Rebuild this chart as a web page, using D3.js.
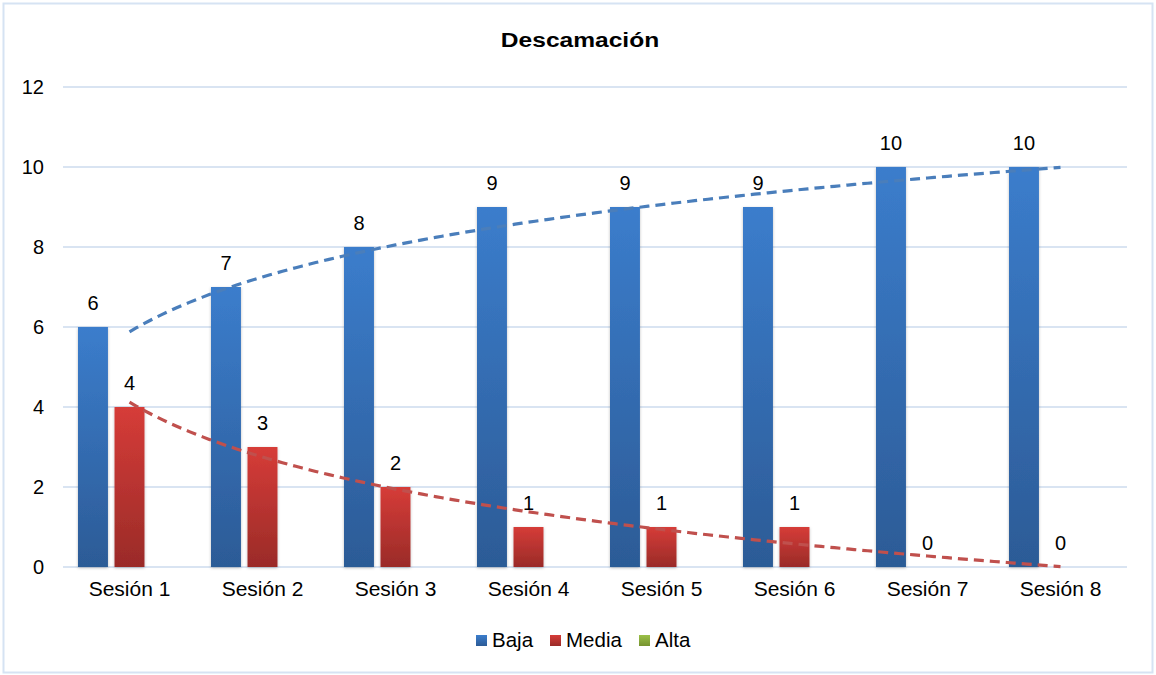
<!DOCTYPE html>
<html>
<head>
<meta charset="utf-8">
<script src="https://cdn.jsdelivr.net/npm/d3@7"></script>
<style>
  html, body { margin: 0; padding: 0; background: #fff; }
  svg { display: block; font-family: "Liberation Sans", Arial, sans-serif; }
</style>
</head>
<body>
<svg id="chart" width="1156" height="675"></svg>
<script>
// Sessions on the x axis
const categories = ["Sesión 1", "Sesión 2", "Sesión 3", "Sesión 4", "Sesión 5", "Sesión 6", "Sesión 7", "Sesión 8"];
// Counts per level
const baja  = [6, 7, 8, 9, 9, 9, 10, 10];
const media = [4, 3, 2, 1, 1, 1, 0, 0];
const alta  = [0, 0, 0, 0, 0, 0, 0, 0];
const seriesNames = ["Baja", "Media", "Alta"];
const yTicks = [0, 2, 4, 6, 8, 10, 12];
const title = "Descamación";

const svg = d3.select("#chart");
const W = 1156, H = 675;
const margin = { left: 63, right: 29, top: 87, bottom: 108 };
const plotW = W - margin.left - margin.right;
const plotH = H - margin.top - margin.bottom;

// gradients and shadow
const defs = svg.append("defs");
function grad(id, top, bottom) {
  const g = defs.append("linearGradient").attr("id", id).attr("x1", 0).attr("y1", 0).attr("x2", 0).attr("y2", 1);
  g.append("stop").attr("offset", "0%").attr("stop-color", top);
  g.append("stop").attr("offset", "100%").attr("stop-color", bottom);
}
grad("gBaja", "#3b7dcc", "#2c5b96");
grad("gMedia", "#d63c38", "#9a2b28");
grad("gAlta", "#9bc048", "#76932f");
const f = defs.append("filter").attr("id", "shadow").attr("x", "-20%").attr("y", "-5%").attr("width", "140%").attr("height", "115%");
f.append("feDropShadow").attr("dx", 0).attr("dy", 1).attr("stdDeviation", 1.6).attr("flood-color", "#000").attr("flood-opacity", 0.25);

// chart frame
svg.append("rect").attr("x", 3.5).attr("y", 3.5).attr("width", W - 7).attr("height", H - 6)
  .attr("fill", "#fff").attr("stroke", "#d6e3f3").attr("stroke-width", 2);

// title (wide bold face)
svg.append("text").attr("transform", "translate(580,47) scale(1.17,1)").attr("text-anchor", "middle")
  .attr("font-size", 21).attr("font-weight", "bold")
  .attr("fill", "#000").text(title);

const g = svg.append("g").attr("transform", `translate(${margin.left},${margin.top})`);

const x = d3.scaleBand().domain(categories).range([0, plotW]).paddingInner(0).paddingOuter(0);
const x1 = d3.scaleBand().domain(seriesNames).range([15, x.bandwidth() - 15]).paddingInner(0.18);
const y = d3.scaleLinear().domain([0, 12]).range([plotH, 0]);

// gridlines
g.append("g").selectAll("line").data(yTicks).join("line")
  .attr("x1", 0).attr("x2", plotW)
  .attr("y1", d => y(d)).attr("y2", d => y(d))
  .attr("stroke", "#d9e4f2").attr("stroke-width", 2);

// y axis labels
const yAxis = d3.axisLeft(y).tickValues(yTicks).tickSize(0).tickPadding(19);
g.append("g").call(yAxis).call(s => s.select(".domain").remove())
  .selectAll("text").attr("font-size", 20).attr("fill", "#000")
  .attr("font-family", "Liberation Sans, Arial, sans-serif");

// x axis labels
const xAxis = d3.axisBottom(x).tickSize(0).tickPadding(14);
g.append("g").attr("transform", `translate(0,${plotH})`).call(xAxis)
  .call(s => s.select(".domain").remove())
  .selectAll("text").attr("font-size", 21).attr("fill", "#000")
  .attr("font-family", "Liberation Sans, Arial, sans-serif");

const series = [
  { name: "Baja", values: baja, fill: "url(#gBaja)", labels: true },
  { name: "Media", values: media, fill: "url(#gMedia)", labels: true },
  { name: "Alta", values: alta, fill: "url(#gAlta)", labels: false }
];

// bars
series.forEach(s => {
  g.append("g").attr("filter", "url(#shadow)").selectAll("rect").data(s.values).join("rect")
    .attr("x", (d, i) => x(categories[i]) + x1(s.name))
    .attr("y", d => y(d))
    .attr("width", x1.bandwidth())
    .attr("height", d => y(0) - y(d))
    .attr("fill", s.fill);
});

// logarithmic trendlines fitted to each series
function logFit(vals) {
  const xs = vals.map((v, i) => Math.log(i + 1));
  const mx = d3.mean(xs), my = d3.mean(vals);
  let num = 0, den = 0;
  xs.forEach((lx, i) => { num += (lx - mx) * (vals[i] - my); den += (lx - mx) * (lx - mx); });
  const b = num / den, a = my - b * mx;
  return t => a + b * Math.log(t);
}
const trendColors = { Baja: "#4a7ebb", Media: "#c0504d" };
[series[0], series[1]].forEach(s => {
  const fn = logFit(s.values);
  const pts = d3.range(1, 8.001, 0.05).map(t => [t, fn(t)]);
  const xc = t => x(categories[0]) + x.bandwidth() / 2 + (t - 1) * x.step();
  g.append("path").datum(pts)
    .attr("d", d3.line().x(p => xc(p[0])).y(p => y(p[1])))
    .attr("fill", "none").attr("stroke", trendColors[s.name])
    .attr("stroke-width", 3.2).attr("stroke-dasharray", "10,6");
});

// value labels
series.filter(s => s.labels).forEach(s => {
  g.append("g").selectAll("text").data(s.values).join("text")
    .attr("x", (d, i) => x(categories[i]) + x1(s.name) + x1.bandwidth() / 2)
    .attr("y", d => y(d) - 17)
    .attr("text-anchor", "middle").attr("font-size", 20).attr("fill", "#000")
    .text(d => d);
});

// legend
const legend = svg.append("g").attr("transform", "translate(476,640)");
const legendItems = [
  { name: "Baja", fill: "url(#gBaja)", dx: 0 },
  { name: "Media", fill: "url(#gMedia)", dx: 74 },
  { name: "Alta", fill: "url(#gAlta)", dx: 163 }
];
legendItems.forEach(it => {
  const li = legend.append("g").attr("transform", `translate(${it.dx},0)`);
  li.append("rect").attr("x", 0).attr("y", -5).attr("width", 11).attr("height", 11).attr("fill", it.fill);
  li.append("text").attr("x", 16).attr("y", 7).attr("font-size", 20.5).attr("fill", "#000").text(it.name);
});
</script>
</body>
</html>
